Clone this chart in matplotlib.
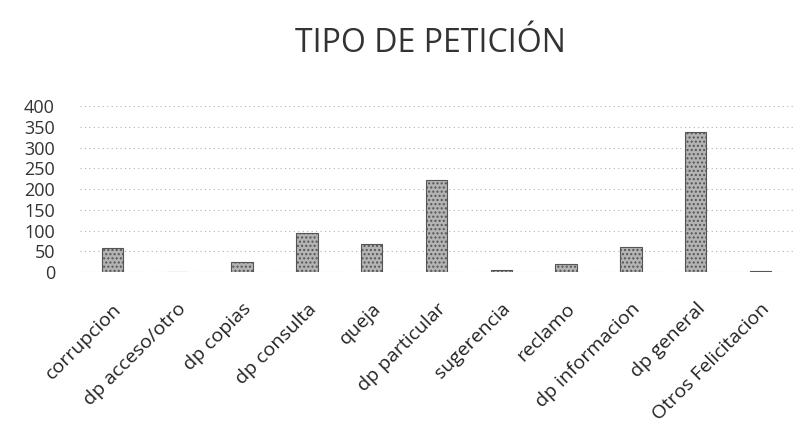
import matplotlib.pyplot as plt

categorias = ['corrupcion', 'dp acceso/otro', 'dp copias', 'dp consulta', 'queja',
              'dp particular', 'sugerencia', 'reclamo', 'dp informacion',
              'dp general', 'Otros Felicitacion']
valores = [57, 1, 24, 93, 67, 223, 5, 19, 60, 338, 3]
ticks_y = [0, 50, 100, 150, 200, 250, 300, 350, 400]

plt.rcParams['font.family'] = ['Open Sans', 'DejaVu Sans']

fig = plt.figure(figsize=(8.12, 4.46), dpi=100)
ax = fig.add_axes([0.0985, 0.39, 0.878, 0.372])

x = range(len(categorias))
ax.bar(x, valores, width=0.33, color='#b4b4b4', edgecolor='#555555',
       linewidth=0.8, hatch='....', zorder=3)

ax.set_ylim(0, 400)
ax.set_xlim(-0.5, len(categorias) - 0.5)
ax.set_yticks(ticks_y)
ax.set_yticklabels([str(t) for t in ticks_y], fontsize=13, color='#333333')
ax.yaxis.grid(True, color='#b0b0b0', linestyle=(0, (1, 3)), linewidth=0.8, zorder=0)
ax.tick_params(axis='both', length=0)
ax.tick_params(axis='y', pad=18)

ax.set_xticks(list(x))
ax.set_xticklabels(categorias, rotation=45, ha='right', rotation_mode='anchor',
                   fontsize=14, color='#222222')
ax.tick_params(axis='x', pad=20)

for s in ax.spines.values():
    s.set_visible(False)
ax.axhline(0, color='#b0b0b0', linestyle=(0, (1, 3)), linewidth=0.8, zorder=1)

fig.text(0.53, 0.903, 'TIPO DE PETICIÓN', ha='center', va='center',
         fontsize=23, color='#333333')

fig.savefig('out.png', dpi=100, facecolor='white')
